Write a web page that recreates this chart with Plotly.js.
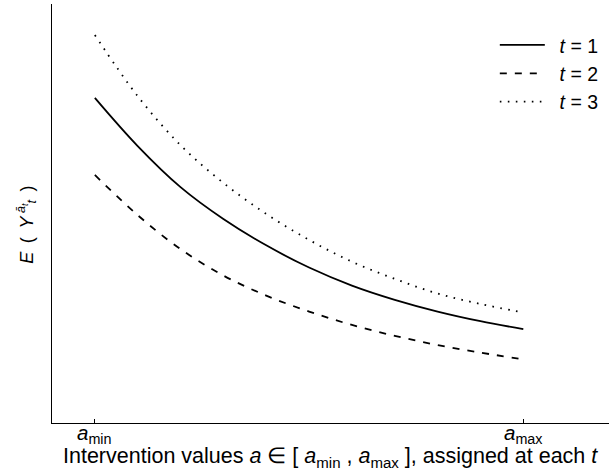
<!DOCTYPE html>
<html>
<head>
<meta charset="utf-8">
<script src="https://cdn.plot.ly/plotly-3.0.1.min.js"></script>
<style>html,body{margin:0;padding:0;background:#fff;}#chart{width:616px;height:476px;}</style>
</head>
<body>
<div id="chart"></div>
<script>
// Intervention value a, scaled so that a_min = 0 and a_max = 1
const aValues = [0, 0.1, 0.2, 0.3, 0.4, 0.5, 0.6, 0.7, 0.8, 0.9, 1.0];
// E(Y_t^{a_t}) (arbitrary units, axis 0..10)
const yT1 = [7.76, 6.61, 5.63, 4.87, 4.24, 3.71, 3.28, 2.94, 2.66, 2.43, 2.24];
const yT2 = [5.92, 4.96, 4.15, 3.52, 3.04, 2.66, 2.34, 2.08, 1.86, 1.68, 1.52];
const yT3 = [9.26, 7.80, 6.63, 5.73, 4.99, 4.37, 3.85, 3.44, 3.09, 2.84, 2.64];
const seriesNames = ['\u2002<i>t</i> = 1', '\u2002<i>t</i> = 2', '\u2002<i>t</i> = 3'];
const tickVals = [-0.1, 0, 1, 1.2];
const labelVals = [0, 1];
const labelText = ['<i>a</i><sub>min</sub>', '<i>a</i><sub>max</sub>'];

const font = 'Liberation Sans, Arial, Helvetica, sans-serif';
const traces = [
  {x: aValues, y: yT1, name: seriesNames[0], mode: 'lines',
   line: {color: '#000', width: 1.8, shape: 'spline'}},
  {x: aValues, y: yT2, name: seriesNames[1], mode: 'lines',
   line: {color: '#000', width: 1.8, dash: '7px,8px', shape: 'spline'}},
  {x: aValues, y: yT3, name: seriesNames[2], mode: 'lines',
   line: {color: '#000', width: 1.8, dash: '1.6px,6.4px', shape: 'spline'}}
];

const annotations = labelVals.map((v, i) => ({
  xref: 'x', yref: 'paper', x: v, y: -0.027,
  xanchor: 'center', yanchor: 'middle', showarrow: false,
  text: labelText[i], font: {family: font, size: 20.5, color: '#000'}
}));
annotations.push(
  {xref: 'paper', yref: 'paper', x: 0.5, y: -0.083,
   xanchor: 'center', yanchor: 'middle', showarrow: false,
   text: 'Intervention values <i>a</i> ∈ [ <i>a</i><sub>min</sub> , <i>a</i><sub>max</sub> ], assigned at each <i>t</i>',
   font: {family: font, size: 21.5, color: '#000'}},
  {xref: 'paper', yref: 'paper', x: -0.045, y: 0.473,
   xanchor: 'center', yanchor: 'middle', showarrow: false, textangle: -90,
   text: '<i>E</i>\u2009 ( \u2009<i>Y</i><sup> <i>ā</i><sub><i>t</i></sub></sup><sub><i>t</i></sub>\u2009 )',
   font: {family: font, size: 18, color: '#000'}}
);

const layout = {
  width: 616, height: 476,
  margin: {l: 52, r: 7, t: 4, b: 53},
  paper_bgcolor: '#fff', plot_bgcolor: '#fff',
  font: {family: font, size: 21, color: '#000'},
  showlegend: true,
  legend: {x: 0.795, y: 0.948, xanchor: 'left', yanchor: 'top',
           bgcolor: 'rgba(0,0,0,0)', borderwidth: 0,
           font: {family: font, size: 19.5, color: '#000'},
           itemwidth: 45, tracegroupgap: 0},
  xaxis: {
    range: [-0.1, 1.2], showgrid: false, zeroline: false,
    showline: true, linecolor: '#000', linewidth: 1,
    tickmode: 'array', tickvals: tickVals, showticklabels: false,
    ticks: 'inside', ticklen: 4, tickwidth: 1, tickcolor: '#000',
    title: {text: ''}
  },
  yaxis: {
    range: [0, 10], showgrid: false, zeroline: false,
    showline: true, linecolor: '#000', linewidth: 1,
    showticklabels: false, ticks: '',
    title: {text: ''}
  },
  annotations: annotations
};

Plotly.newPlot('chart', traces, layout, {displayModeBar: false, staticPlot: true});
</script>
</body>
</html>
